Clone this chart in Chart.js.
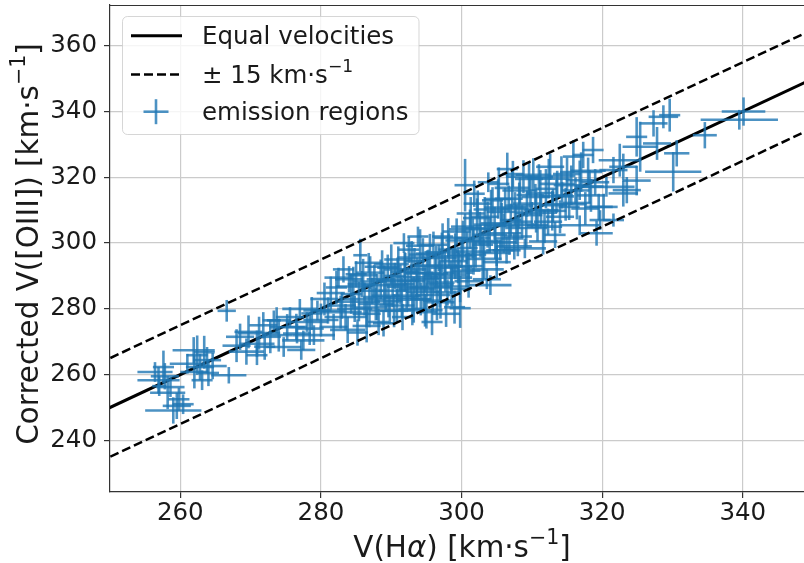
<!DOCTYPE html>
<html>
<head>
<meta charset="utf-8">
<script src="https://cdn.jsdelivr.net/npm/chart.js@4.4.1/dist/chart.umd.min.js"></script>
<style>
  html, body { margin: 0; padding: 0; background: #fff; }
  #wrap { width: 804px; height: 563px; }
</style>
</head>
<body>
<div id="wrap"><canvas id="chart" width="804" height="563"></canvas></div>
<script>
// --- data ---
const velHa = [
  256.4, 256.9, 257.6, 257.0, 258.6, 259.0, 259.5, 259.8, 261.0, 261.9,
  262.4, 262.8, 263.1, 263.8, 264.0, 266.6, 266.9, 268.5, 269.7, 270.9,
  271.8, 272.8, 273.7, 270.9, 274.7, 276.6, 277.5, 278.7, 275.6, 278.0,
  272.0, 273.3, 276.5, 279.5, 277.0, 277.2, 279.0, 280.5, 281.0, 281.8,
  282.2, 283.0, 283.5, 284.0, 284.3, 284.8, 285.2, 285.6, 285.8, 286.2,
  286.5, 287.0, 287.3, 287.8, 288.2, 288.5, 288.9, 289.2, 289.5, 289.8,
  283.2, 286.8, 282.5, 285.0, 290.2, 290.5, 290.8, 291.0, 291.3, 291.6,
  292.0, 292.2, 292.5, 292.8, 293.0, 293.3, 293.6, 294.0, 294.2, 294.5,
  294.8, 295.0, 295.3, 295.6, 296.0, 296.2, 296.5, 296.8, 297.0, 297.3,
  297.6, 298.0, 298.2, 298.5, 298.8, 299.0, 299.3, 299.6, 299.8, 300.5,
  300.0, 299.8, 291.8, 293.8, 295.8, 297.8, 300.5, 300.8, 301.0, 301.3,
  301.6, 302.0, 302.3, 302.6, 303.0, 303.3, 303.6, 304.0, 304.1, 304.4,
  304.7, 305.0, 305.3, 305.6, 306.0, 306.4, 306.7, 307.0, 307.3, 307.6,
  308.0, 308.3, 308.6, 309.0, 309.3, 309.6, 310.0, 301.8, 303.8, 306.5,
  305.5, 310.5, 310.8, 311.0, 311.3, 311.6, 312.0, 312.3, 312.6, 313.0,
  313.3, 313.6, 314.0, 314.3, 315.0, 315.3, 316.8, 315.9, 316.2, 316.8,
  317.3, 317.6, 318.0, 318.4, 318.7, 319.0, 319.2, 319.5, 319.7, 320.2,
  320.6, 321.6, 321.6, 322.5, 323.0, 323.0, 323.5, 324.9, 324.9, 325.4,
  327.3, 327.8, 328.7, 329.6, 330.1, 330.6, 334.6, 339.5, 340.1,
  284.6, 285.4, 286.0, 286.9, 287.6, 288.0, 288.7, 289.0, 289.6, 290.0,
  290.4, 290.9, 291.5, 291.9, 292.4, 292.9, 293.2, 293.7, 294.1, 294.6,
  295.1, 295.5, 295.9, 296.4, 296.9, 297.2, 297.7, 298.1, 298.6, 299.1,
  299.5, 300.2, 300.7, 301.2, 301.7, 302.2, 302.7, 303.2, 303.7, 304.2,
  304.8, 305.2, 305.7, 306.2, 306.8, 307.2, 307.8, 308.2, 308.8, 309.2,
  309.8, 310.2, 310.6, 311.2, 311.8, 312.4, 312.9, 313.5, 314.2, 314.8,
  315.6, 316.4, 317.0, 318.2, 301.0, 303.0, 305.0, 307.5, 297.0, 294.8,
  286.5, 283.8, 257.8, 258.2, 260.4, 262.0, 263.4, 264.6, 268.0, 269.4,
  271.2, 274.0, 275.2, 278.4, 280.0, 281.4, 282.8
];
const velOIII = [
  260.8, 258.3, 262.3, 256.5, 256.2, 249.1, 250.5, 252.5, 263.3, 267.4,
  265.9, 262.3, 258.3, 264.4, 260.5, 279.4, 259.8, 271.5, 273.0, 269.4,
  275.0, 271.5, 276.5, 265.9, 268.4, 272.5, 270.4, 278.6, 277.5, 276.0,
  268.5, 276.5, 274.5, 279.5, 280.0, 267.5, 272.0, 283.0, 279.5, 274.5,
  286.5, 281.0, 277.5, 289.0, 284.5, 280.0, 272.8, 296.3, 287.5, 283.0,
  278.5, 291.0, 285.5, 281.5, 276.0, 289.0, 275.6, 284.0, 292.5, 279.5,
  292.0, 294.0, 289.5, 290.5, 285.5, 290.0, 281.0, 295.0, 287.5, 277.5,
  292.0, 284.0, 298.0, 288.5, 280.0, 294.5, 286.0, 291.0, 283.0, 296.5,
  289.0, 279.0, 293.0, 286.5, 299.5, 290.5, 282.5, 295.5, 288.0, 302.0,
  292.5, 285.0, 298.0, 289.5, 294.5, 280.5, 303.5, 291.0, 286.0, 317.6,
  296.5, 280.2, 300.0, 302.0, 276.0, 278.5, 305.0, 298.5, 293.0, 309.0,
  301.5, 296.5, 312.0, 304.5, 299.5, 308.0, 289.0, 302.5, 287.2, 313.0,
  306.0, 297.0, 318.0, 309.5, 303.0, 297.8, 313.5, 307.0, 321.0, 310.5,
  302.0, 316.0, 306.5, 298.4, 312.0, 319.5, 308.5, 315.0, 318.5, 322.5,
  297.8, 314.0, 305.5, 320.0, 310.0, 300.5, 316.5, 306.5, 323.2, 311.5,
  302.5, 318.0, 308.0, 314.5, 321.0, 311.0, 305.4, 326.3, 316.0, 319.1,
  326.8, 310.5, 322.0, 314.5, 328.3, 318.5, 303.0, 311.0, 307.0, 311.0,
  317.1, 322.2, 307.0, 325.2, 315.1, 323.2, 316.1, 319.0, 332.3, 329.3,
  336.4, 330.3, 338.4, 338.9, 321.7, 327.3, 332.8, 337.5, 340.0,
  286.8, 282.2, 290.2, 280.4, 288.3, 283.6, 292.8, 287.2, 282.4, 293.6,
  279.4, 288.6, 283.4, 291.2, 286.7, 295.6, 282.8, 289.6, 299.2, 285.2,
  290.8, 296.8, 284.2, 293.2, 287.4, 297.2, 290.2, 301.6, 286.8, 296.0,
  292.8, 300.8, 291.6, 304.2, 297.4, 307.6, 300.6, 295.2, 305.6, 310.2,
  300.2, 313.4, 305.2, 310.8, 301.4, 316.8, 305.6, 311.4, 320.2, 304.6,
  314.6, 320.8, 309.2, 315.2, 305.0, 319.6, 309.8, 314.2, 320.4, 311.8,
  317.6, 312.2, 321.6, 317.2, 288.4, 292.0, 294.2, 299.0, 282.0, 279.6,
  274.8, 273.6, 259.5, 254.5, 251.0, 260.8, 266.8, 262.6, 268.8, 267.0,
  272.6, 272.0, 274.4, 274.0, 276.6, 284.8, 279.0
];
const errHa = [
  2.5, 3, 1.5, 1, 2, 4, 2, 1.5, 2.5, 3,
  1.5, 2, 1.5, 2, 1.5, 1.3, 2.5, 2, 2, 2.5,
  2, 1.5, 2, 1.5, 2.5, 2, 3, 1.5, 2, 3,
  1.5, 1, 1.5, 2, 2.5, 2, 3, 2, 2.5, 2,
  1.5, 2, 3, 2, 1.5, 2.5, 1.5, 1, 2, 3,
  2, 2, 1.5, 2.5, 1.5, 2, 1.5, 2, 1.5, 3,
  1.5, 2, 2, 1.5, 2, 1.5, 2.5, 2, 2, 1.5,
  3, 2, 1.5, 2, 2, 1.5, 2.5, 2, 1.5, 2,
  2, 1.5, 2, 3, 2, 1.5, 2, 2.5, 2, 1.5,
  2, 2, 1.5, 3, 2, 1.5, 2, 2, 1.5, 1.5,
  2, 1.5, 1.5, 1.5, 1.5, 2, 2, 1.5, 2, 2,
  2.5, 1.5, 2, 2, 1.5, 2, 2, 2.5, 3, 1.5,
  2, 2, 1.5, 2, 2.5, 2, 2, 1.5, 1.5, 2,
  2, 2.5, 1.5, 3, 2, 2, 1.5, 1.5, 1.5, 1.5,
  2, 2, 1.5, 2, 2.5, 2, 1.5, 2, 2, 2,
  1.5, 2.5, 2, 1.5, 2, 1.5, 2.8, 1.5, 2, 2,
  1.5, 2, 2.5, 2, 1.5, 2, 2.3, 2, 1.5, 2,
  4, 2, 1.5, 3, 2.1, 2, 2, 2, 1.5, 2.5,
  2, 2, 2.1, 1.5, 4, 1.8, 1.7, 5.5, 3.1,
  2.5, 3, 2, 2.5, 3, 2, 2.5, 3, 2, 2.5,
  2, 3, 2.5, 2, 3, 2, 2.5, 3, 2, 2.5,
  3, 2, 2.5, 3, 2, 2.5, 3, 2, 2.5, 3,
  2, 2.5, 2, 3, 2.5, 2, 3, 2.5, 2, 2.5,
  3, 2, 2.5, 3, 2, 2.5, 3, 2, 2.5, 3,
  2, 2.5, 3, 2, 2.5, 3, 2, 2.5, 2, 3,
  2.5, 2, 3, 2, 2, 3, 2, 2.5, 2, 2.5,
  2, 2.5, 2, 2.5, 1.5, 2, 1.5, 2, 2, 2.5,
  3, 2, 2.5, 2, 2.5, 2, 3
];
const errOIII = [
  3, 4, 5, 3, 3, 4, 4, 3.5, 3, 4,
  6, 4, 3, 4, 4, 3.3, 2.5, 4, 5, 4,
  4, 5, 4, 3, 3, 3, 3, 5, 3, 3,
  4, 3, 4, 3, 3, 3, 3, 5, 4, 4,
  5, 4, 4, 4, 6, 4, 4, 5, 4, 5,
  4, 5, 4, 5, 4, 6, 4, 5, 4, 4,
  4, 3, 3, 4, 5, 4, 5, 4, 6, 4,
  5, 4, 4, 5, 5, 4, 6, 4, 5, 5,
  4, 5, 5, 4, 4, 5, 6, 4, 5, 4,
  5, 4, 5, 5, 4, 5, 4, 6, 4, 8,
  4, 6, 3, 3, 4, 4, 4, 5, 4, 5,
  6, 4, 4, 5, 4, 6, 3, 5, 3, 4,
  5, 4, 5, 4, 6, 4, 4, 5, 4, 5,
  6, 4, 5, 3, 4, 5, 4, 4, 3, 5,
  3, 4, 5, 4, 5, 4, 6, 4, 4, 5,
  4, 4, 5, 4, 5, 4, 3, 5, 4, 6,
  4, 5, 4, 5, 4, 4, 3.8, 4, 3, 4,
  3, 4, 2, 5, 4, 4, 4, 4.5, 6, 7.6,
  4, 5, 3.5, 5, 6, 4, 4, 3, 4.3,
  6, 6, 5, 6, 5, 7, 5, 6, 5, 6,
  5, 7, 6, 6, 6, 5, 7, 6, 5, 6,
  7, 6, 5, 6, 7, 6, 5, 6, 6, 7,
  5, 6, 5, 6, 7, 6, 5, 6, 7, 6,
  5, 6, 7, 6, 5, 6, 6, 7, 5, 6,
  6, 5, 6, 7, 5, 6, 6, 5, 6, 5,
  6, 5, 6, 5, 5, 4, 5, 4, 5, 5,
  5, 4, 4, 5, 3, 5, 5, 4, 5, 4,
  5, 5, 4, 5, 5, 5, 5
];

// reference lines: y = x and y = x +/- 15
const lineX = [240, 360];
const equalY = [240, 360];
const upperY = [255, 375];
const lowerY = [225, 345];

const xTicks = [260, 280, 300, 320, 340];
const yTicks = [240, 260, 280, 300, 320, 340, 360];

const legendRows = [
  [['Equal velocities']],
  [['\u00b1 15 km\u00b7s'], ['\u22121', 'sup']],
  [['emission regions']]
];

const FONT = "'DejaVu Sans', sans-serif";
const BLUE = 'rgba(31,119,180,0.8)';

function fontFor(part, size) {
  const style = part[1] === 'italic' ? 'italic ' : '';
  const s = part[1] === 'sup' ? size * 0.7 : size;
  return style + s + 'px ' + FONT;
}

// text with mathtext-like superscript pieces
function drawRich(ctx, parts, x, y, size, align) {
  const widths = parts.map(p => { ctx.font = fontFor(p, size); return ctx.measureText(p[0]).width; });
  const total = widths.reduce((a, b) => a + b, 0);
  let cx = align === 'center' ? x - total / 2 : x;
  ctx.textAlign = 'left';
  ctx.textBaseline = 'alphabetic';
  parts.forEach((p, i) => {
    ctx.font = fontFor(p, size);
    ctx.fillText(p[0], cx, p[1] === 'sup' ? y - size * 0.45 : y);
    cx += widths[i];
  });
}

const errorBars = {
  id: 'errorBars',
  afterDatasetDraw(chart, args) {
    if (args.index !== 1) return;
    const { ctx, chartArea: a, scales: { x, y } } = chart;
    ctx.save();
    ctx.beginPath();
    ctx.rect(a.left, a.top, a.right - a.left, a.bottom - a.top);
    ctx.clip();
    ctx.strokeStyle = BLUE;
    ctx.lineWidth = 2.6;
    velHa.forEach((v, i) => {
      const px = x.getPixelForValue(v);
      const py = y.getPixelForValue(velOIII[i]);
      ctx.beginPath();
      ctx.moveTo(x.getPixelForValue(v - errHa[i]), py);
      ctx.lineTo(x.getPixelForValue(v + errHa[i]), py);
      ctx.stroke();
      ctx.beginPath();
      ctx.moveTo(px, y.getPixelForValue(velOIII[i] - errOIII[i]));
      ctx.lineTo(px, y.getPixelForValue(velOIII[i] + errOIII[i]));
      ctx.stroke();
    });
    ctx.restore();
  }
};

const decorations = {
  id: 'decorations',
  afterDraw(chart) {
    const { ctx, chartArea: a } = chart;
    ctx.save();
    // top spine
    ctx.strokeStyle = '#333';
    ctx.lineWidth = 1.2;
    ctx.beginPath();
    ctx.moveTo(a.left, a.top + 0.5);
    ctx.lineTo(a.right, a.top + 0.5);
    ctx.stroke();

    // axis titles
    ctx.fillStyle = '#1a1a1a';
    drawRich(ctx, [['V(H'], ['\u03b1', 'italic'], [') [km\u00b7s'], ['\u22121', 'sup'], [']']], 462, 557, 29.4, 'center');
    ctx.save();
    ctx.translate(38, 244);
    ctx.rotate(-Math.PI / 2);
    drawRich(ctx, [['Corrected V([OIII]) [km\u00b7s'], ['\u22121', 'sup'], [']']], 0, 0, 29.4, 'center');
    ctx.restore();

    // legend box
    const bx = 122.5, by = 16.5, bw = 296.5, bh = 118, r = 5;
    ctx.beginPath();
    ctx.roundRect(bx, by, bw, bh, r);
    ctx.fillStyle = 'rgba(255,255,255,0.8)';
    ctx.fill();
    ctx.strokeStyle = 'rgba(204,204,204,0.8)';
    ctx.lineWidth = 1;
    ctx.stroke();

    const rowY = [35.7, 74.5, 111.7];
    // solid sample
    ctx.strokeStyle = '#000';
    ctx.lineWidth = 3;
    ctx.beginPath();
    ctx.moveTo(131, rowY[0]); ctx.lineTo(182, rowY[0]);
    ctx.stroke();
    // dashed sample
    ctx.lineWidth = 2.5;
    ctx.setLineDash([9, 4]);
    ctx.beginPath();
    ctx.moveTo(131, rowY[1]); ctx.lineTo(182, rowY[1]);
    ctx.stroke();
    ctx.setLineDash([]);
    // errorbar sample
    ctx.strokeStyle = BLUE;
    ctx.lineWidth = 2.6;
    ctx.beginPath();
    ctx.moveTo(143.5, rowY[2]); ctx.lineTo(168.5, rowY[2]);
    ctx.stroke();
    ctx.beginPath();
    ctx.moveTo(156, rowY[2] - 12.5); ctx.lineTo(156, rowY[2] + 12.5);
    ctx.stroke();

    ctx.fillStyle = '#1a1a1a';
    legendRows.forEach((parts, i) => {
      drawRich(ctx, parts, 202, rowY[i] + 8.7, 24.5, 'left');
    });
    ctx.restore();
  }
};

const tickFont = { family: FONT, size: 24.5 };

new Chart(document.getElementById('chart'), {
  type: 'scatter',
  data: {
    datasets: [
      {
        label: 'Equal velocities',
        data: lineX.map((v, i) => ({ x: v, y: equalY[i] })),
        showLine: true, borderColor: '#000', borderWidth: 3,
        pointRadius: 0, clip: 0, order: 3
      },
      {
        label: 'emission regions',
        data: velHa.map((v, i) => ({ x: v, y: velOIII[i] })),
        pointRadius: 0, order: 2
      },
      {
        label: '+15',
        data: lineX.map((v, i) => ({ x: v, y: upperY[i] })),
        showLine: true, borderColor: '#000', borderWidth: 2.5, borderDash: [9, 4],
        pointRadius: 0, clip: 0, order: 1
      },
      {
        label: '-15',
        data: lineX.map((v, i) => ({ x: v, y: lowerY[i] })),
        showLine: true, borderColor: '#000', borderWidth: 2.5, borderDash: [9, 4],
        pointRadius: 0, clip: 0, order: 1
      }
    ]
  },
  options: {
    responsive: false,
    animation: false,
    devicePixelRatio: 1,
    layout: { padding: { top: 5, left: 0, right: 0, bottom: 0 } },
    plugins: { legend: { display: false }, tooltip: { enabled: false } },
    scales: {
      x: {
        type: 'linear', min: 250, max: 348.7,
        afterBuildTicks: s => { s.ticks = xTicks.map(v => ({ value: v })); },
        afterFit: s => { s.height = 71; s.paddingLeft = 0; s.paddingRight = 0; },
        ticks: { font: tickFont, color: '#1a1a1a', padding: 1, maxRotation: 0 },
        grid: { color: '#cbcbcb', lineWidth: 1.2, tickColor: '#333', tickLength: 6, tickWidth: 1.2 },
        border: { color: '#333', width: 1.2 }
      },
      y: {
        type: 'linear', min: 224.3, max: 372.4,
        afterBuildTicks: s => { s.ticks = yTicks.map(v => ({ value: v })); },
        afterFit: s => { s.width = 110; s.paddingTop = 0; s.paddingBottom = 0; },
        ticks: { font: tickFont, color: '#1a1a1a', padding: 7 },
        grid: { color: '#cbcbcb', lineWidth: 1.2, tickColor: '#333', tickLength: 6, tickWidth: 1.2 },
        border: { color: '#333', width: 1.2 }
      }
    }
  },
  plugins: [errorBars, decorations]
});
</script>
</body>
</html>
